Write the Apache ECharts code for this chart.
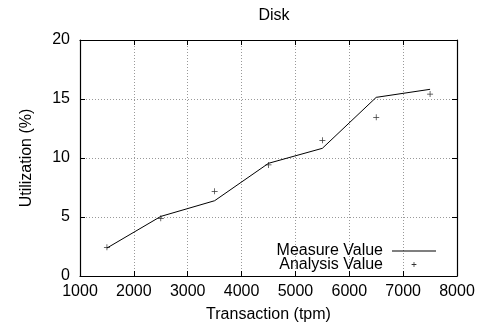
<!DOCTYPE html>
<html><head><meta charset="utf-8">
<script src="https://cdn.jsdelivr.net/npm/echarts@6/dist/echarts.min.js"></script>
<style>html,body{margin:0;padding:0;background:#fff}#c{width:484px;height:328px}</style>
</head><body><div id="c"></div>
<script>
const transactions = [1500, 2500, 3500, 4500, 5500, 6500, 7500];
const measureValues = [2.37, 5.05, 6.38, 9.55, 10.82, 15.14, 15.82];
const analysisValues = [2.43, 4.89, 7.18, 9.41, 11.5, 13.45, 15.42];
const xTicks = [1000, 2000, 3000, 4000, 5000, 6000, 7000, 8000];
const yTicks = [0, 5, 10, 15, 20];

const font = 'Liberation Sans, Arial, sans-serif';
const plus = 'path://M-0.12,-1L0.12,-1L0.12,-0.12L1,-0.12L1,0.12L0.12,0.12L0.12,1L-0.12,1L-0.12,0.12L-1,0.12L-1,-0.12L-0.12,-0.12Z';
const plusIcon = 'path://M-7,-7Z M7,7Z M-0.45,-2.8L0.45,-2.8L0.45,-0.45L2.8,-0.45L2.8,0.45L0.45,0.45L0.45,2.8L-0.45,2.8L-0.45,0.45L-2.8,0.45L-2.8,-0.45L-0.45,-0.45Z';
const lineIcon = 'path://M0,0L44,0L44,1.2L0,1.2Z';
const chart = echarts.init(document.getElementById('c'), null, {renderer: 'canvas'});
const split = {show: true, lineStyle: {color: '#999', type: [1, 2], width: 1}};
const tick = {show: true, inside: true, length: 5, lineStyle: {color: '#000'}};
const line = {show: true, onZero: false, lineStyle: {color: '#000', width: 1.2}};
const txt = {fontFamily: font, fontSize: 16, color: '#000'};
chart.setOption({
  animation: false,
  title: {text: 'Disk', left: 269, textAlign: 'center', top: 3,
    textStyle: Object.assign({fontWeight: 'normal'}, txt)},
  grid: {left: 80, right: 27, top: 40, bottom: 52, containLabel: false},
  legend: {
    orient: 'vertical', align: 'right', right: 43, top: 238,
    itemWidth: 44, itemHeight: 12, itemGap: -2.5,
    textStyle: Object.assign({padding: [0, 4, 0, 0]}, txt),
    data: [{name: 'Measure Value', icon: lineIcon, itemStyle: {color: '#000'}},
           {name: 'Analysis Value', icon: plusIcon, itemStyle: {color: '#000'}}]
  },
  xAxis: [{
    type: 'value', min: xTicks[0], max: xTicks[xTicks.length - 1], interval: 1000,
    name: 'Transaction (tpm)', nameLocation: 'middle', nameGap: 31,
    nameTextStyle: txt,
    axisLine: line, axisTick: tick, splitLine: split,
    axisLabel: Object.assign({margin: 8, formatter: v => String(v)}, txt)
  }, {
    type: 'value', position: 'top', min: xTicks[0], max: xTicks[xTicks.length - 1], interval: 1000,
    axisLine: line, axisTick: tick, splitLine: {show: false}, axisLabel: {show: false}
  }],
  yAxis: [{
    type: 'value', min: yTicks[0], max: yTicks[yTicks.length - 1], interval: 5,
    name: 'Utilization (%)', nameLocation: 'middle', nameGap: 45,
    nameTextStyle: txt,
    axisLine: line, axisTick: tick, splitLine: split,
    axisLabel: Object.assign({margin: 10}, txt)
  }, {
    type: 'value', position: 'right', min: yTicks[0], max: yTicks[yTicks.length - 1], interval: 5,
    axisLine: line, axisTick: tick, splitLine: {show: false}, axisLabel: {show: false}
  }],
  series: [{
    name: 'Measure Value', type: 'line', symbol: 'none',
    lineStyle: {color: '#000', width: 1}, itemStyle: {color: '#000'},
    data: transactions.map((x, i) => [x, measureValues[i]])
  }, {
    name: 'Analysis Value', type: 'scatter', symbol: plus, symbolSize: 6,
    itemStyle: {color: '#000'},
    data: transactions.map((x, i) => [x, analysisValues[i]])
  }]
});
</script></body></html>
